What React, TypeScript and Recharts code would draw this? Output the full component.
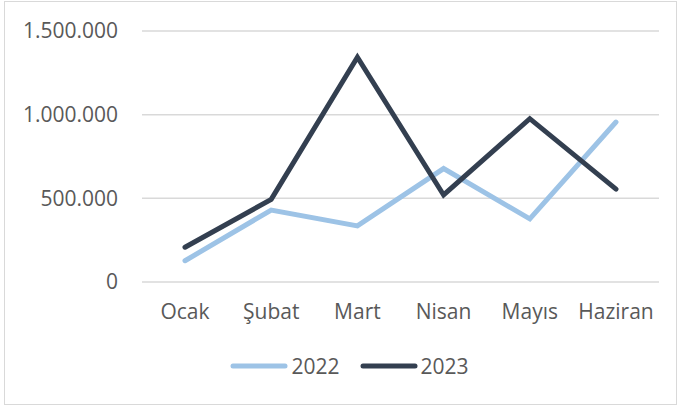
import { LineChart, Line, XAxis, YAxis, CartesianGrid, Legend } from "recharts";

const months = ["Ocak", "Şubat", "Mart", "Nisan", "Mayıs", "Haziran"];
const values2022 = [127000, 430000, 335000, 678000, 377000, 956000];
const values2023 = [208000, 494000, 1343000, 520000, 976000, 555000];
const yTicks = [0, 500000, 1000000, 1500000];

const C2022 = "#9dc3e6";
const C2023 = "#333f50";
const TEXT = "#595959";
const FONT = "'Open Sans', 'Noto Sans', sans-serif";

const data = months.map((m, i) => ({ month: m, y2022: values2022[i], y2023: values2023[i] }));

// 1500000 -> "1.500.000"
const fmt = (v: number) => String(v).replace(/\B(?=(\d{3})+(?!\d))/g, ".");

function LegendBox(props: any) {
  const items = props.payload || [];
  return (
    <div style={{ display: "flex", justifyContent: "center", alignItems: "center", height: 28, paddingLeft: 40, fontFamily: FONT, fontSize: 21, color: TEXT }}>
      {items.map((it: any) => (
        <div key={it.value} style={{ display: "flex", alignItems: "center", margin: "0 10px" }}>
          <svg width={58} height={8} style={{ marginRight: 3 }}>
            <line x1={3} y1={4} x2={55} y2={4} stroke={it.color} strokeWidth={5} strokeLinecap="round" />
          </svg>
          <span>{it.value}</span>
        </div>
      ))}
    </div>
  );
}

export default function App() {
  return (
    <div style={{ position: "absolute", left: 0, top: 0, width: 680, height: 408, background: "#fff" }}>
      <div style={{ position: "absolute", left: 4, top: 1, width: 671, height: 402, border: "1px solid #d9d9d9" }} />
      <div style={{ position: "absolute", left: 0, top: 0 }}>
        <LineChart width={680} height={408} data={data} margin={{ top: 31, right: 21, left: 0, bottom: 28 }}>
          <CartesianGrid vertical={false} stroke="#d9d9d9" strokeWidth={1.5} />
          <XAxis
            dataKey="month"
            axisLine={false}
            tickLine={false}
            height={70}
            tickMargin={16}
            padding={{ left: 43, right: 43 }}
            tick={{ fill: TEXT, fontSize: 21, fontFamily: FONT }}
            interval={0}
          />
          <YAxis
            width={142}
            domain={[0, 1500000]}
            ticks={yTicks}
            axisLine={false}
            tickLine={false}
            tickMargin={18}
            tickFormatter={fmt}
            tick={{ fill: TEXT, fontSize: 21, fontFamily: FONT }}
          />
          <Legend verticalAlign="bottom" height={28} content={<LegendBox />} />
          <Line dataKey="y2022" name="2022" stroke={C2022} strokeWidth={5} dot={false} strokeLinecap="round" isAnimationActive={false} />
          <Line dataKey="y2023" name="2023" stroke={C2023} strokeWidth={5} dot={false} strokeLinecap="round" isAnimationActive={false} />
        </LineChart>
      </div>
    </div>
  );
}
